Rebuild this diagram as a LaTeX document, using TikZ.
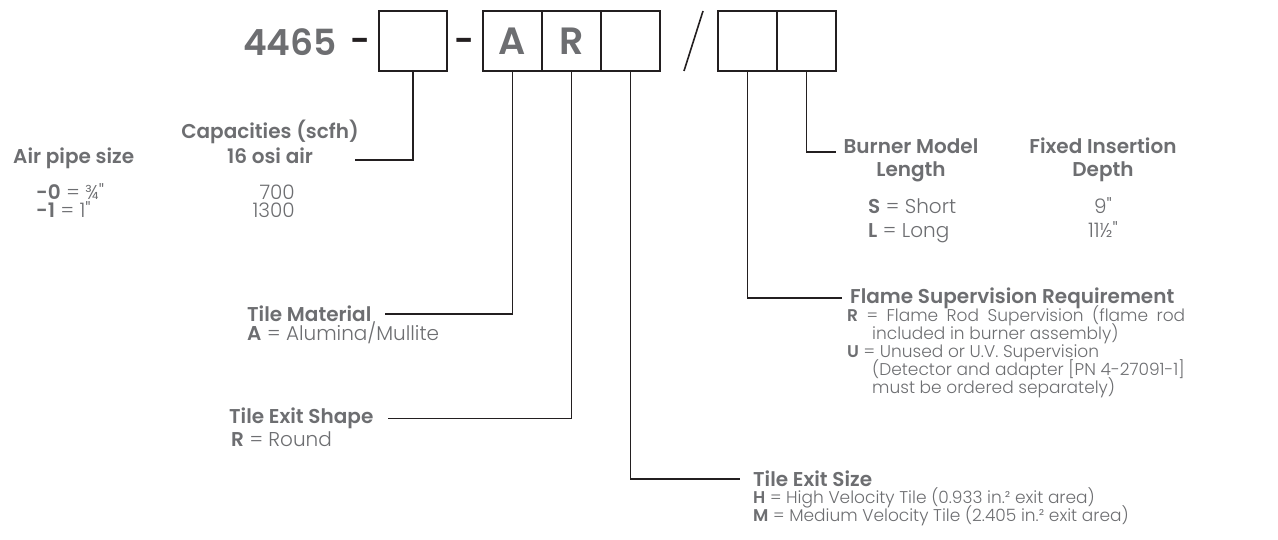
\documentclass[tikz,border=0pt]{standalone}
\usepackage{fontspec}
\setmainfont{Poppins}[Ligatures=TeXOff, UprightFont=* Light, BoldFont=* SemiBold]
\usetikzlibrary{positioning}
\setlength\lineskiplimit{-100pt}
\definecolor{txtgray}{HTML}{6D6E71}
\definecolor{inkline}{HTML}{231F20}
\tikzset{
  cell/.style={draw=inkline, line width=1.6pt, minimum width=59pt, minimum height=60pt,
    inner sep=0pt, outer sep=0pt, text=txtgray, font=\fontsize{38}{38}\selectfont\bfseries},
  lead/.style={draw=inkline, line width=1.6pt},
  head/.style={inner sep=0pt, text=txtgray, font=\fontsize{20}{23}\selectfont\bfseries},
  body/.style={inner sep=0pt, text=txtgray, font=\fontsize{20}{18}\selectfont},
  note/.style={inner sep=0pt, text=txtgray, font=\fontsize{17}{18}\selectfont},
  dashmark/.style={anchor=base, inner sep=0pt, text=inkline, font=\fontsize{34}{34}\selectfont\bfseries},
}
\begin{document}
\begin{tikzpicture}[x=1pt, y=-1pt]
  \useasboundingbox (0,0) rectangle (1278,540);
  \node[anchor=base west, inner sep=0pt, text=txtgray, font=\fontsize{36}{36}\selectfont\bfseries] (num) at (243,56) {4465};
  \node[dashmark] (d1) at (360.5,53) {-};
  \node[cell, minimum width=68pt] (sz) at (413,41) {};
  \node[dashmark] (d2) at (464.5,53) {-};
  \node[cell] (mat) at (512.5,41) {A};
  \node[cell, right=0pt of mat] (shp) {R};
  \node[cell, right=0pt of shp] (exs) {};
  \draw[lead] (684,71) -- (703,11);
  \node[cell] (sup) at (747.5,41) {};
  \node[cell, right=0pt of sup] (len) {};

  \node[head, anchor=base west] (air) at (13,163.5) {Air pipe size};
  \node[head, anchor=base, align=center, font=\fontsize{20}{25}\selectfont\bfseries] (cap) at (270,163.5) {Capacities (scfh)\\16 osi air};
  \node[body, anchor=base west, align=left] (pipe) at (36,217.5) {\textbf{-0} = ¾"\\\textbf{-1} = 1"};
  \node[body, anchor=base east, align=right] (flow) at (295,217.5) {700\\1300};
  \coordinate (capend) at (355,160);
  \draw[lead] (sz.south) |- (capend);

  \node[head, anchor=base, align=center] (bml) at (911,176.5) {Burner Model\\Length};
  \node[head, anchor=base, align=center] (fid) at (1103,176.5) {Fixed Insertion\\Depth};
  \node[body, anchor=base west, align=left, font=\fontsize{20}{24}\selectfont] (lenv) at (868,237.5) {\textbf{S} = Short\\\textbf{L} = Long};
  \node[body, anchor=base, align=center, font=\fontsize{20}{24}\selectfont] (depv) at (1103,237.5) {9"\\11½"};
  \draw[lead] (len.south) |- ([xshift=-7pt]bml.west |- 0,152);

  \node[head, anchor=base west] (fsr) at (850,303.5) {Flame Supervision Requirement};
  \node[note, anchor=base west, align=left] (fsv) at (847,393.5) {\makebox[338pt][s]{\textbf{R} = Flame Rod Supervision (flame rod}\\
    \hspace*{25pt}included in burner assembly)\\
    \textbf{U} = Unused or U.V. Supervision\\
    \hspace*{25pt}(Detector and adapter [PN 4-27091-1]\\
    \hspace*{25pt}must be ordered separately)};
  \draw[lead] (sup.south) |- ([xshift=-8pt]fsr.west);

  \node[head, anchor=base west] (tmh) at (247,321.5) {Tile Material};
  \node[body, anchor=base west] (tmv) at (247,340) {\textbf{A} = Alumina/Mullite};
  \draw[lead] (mat.south) |- ([xshift=13pt]tmh.east);

  \node[head, anchor=base west] (tsh) at (229,423.5) {Tile Exit Shape};
  \node[body, anchor=base west] (tsv) at (231,446.5) {\textbf{R} = Round};
  \draw[lead] (shp.south) |- ([xshift=14pt]tsh.east);

  \node[head, anchor=base west] (tzh) at (753,486.5) {Tile Exit Size};
  \node[note, anchor=base west, align=left] (tzv) at (753,521.5) {\textbf{H} = High Velocity Tile (0.933 in.² exit area)\\
    \textbf{M} = Medium Velocity Tile (2.405 in.² exit area)};
  \draw[lead] (exs.south) |- ([xshift=-13pt]tzh.west);
\end{tikzpicture}
\end{document}
